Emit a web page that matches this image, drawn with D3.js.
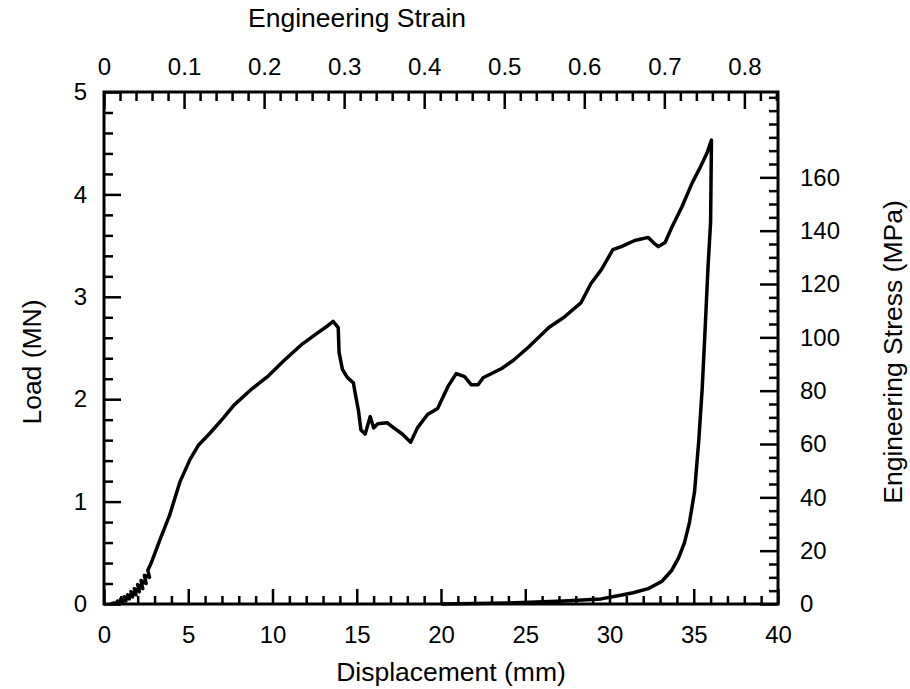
<!DOCTYPE html>
<html>
<head>
<meta charset="utf-8">
<script src="https://cdn.jsdelivr.net/npm/d3@7"></script>
<style>
  body { margin: 0; background: #fff; }
  svg { display: block; }
  .axis path { display: none; }
  .axis line { stroke: #000; stroke-width: 2.5px; }
  .axis text { font-family: "Liberation Sans", Arial, Helvetica, sans-serif; font-size: 24px; fill: #000; }
  .axis-title { font-family: "Liberation Sans", Arial, Helvetica, sans-serif; font-size: 26.5px; fill: #000; }
</style>
</head>
<body>
<div id="chart"></div>
<script>
// load vs displacement; the first points are the small reload cycles near the origin
var displacement = [0.4, 0.6, 0.9, 0.8, 1.1, 1.0, 1.3, 1.2, 1.5, 1.4, 1.7, 1.6, 1.9, 1.8, 2.1, 2.0, 2.3, 2.2, 2.5, 2.4, 2.7, 2.6, 2.8,
  3.3, 3.9, 4.5, 5.1, 5.6, 6.3, 7.1, 7.7, 8.7, 9.7, 10.7, 11.7, 12.7, 13.3, 13.6,
  13.9, 13.95, 14.15, 14.45, 14.8, 14.95, 15.1, 15.25, 15.5, 15.8, 16.0, 16.25, 16.8, 17.2, 17.7, 18.2,
  18.6, 19.2, 19.8, 20.4, 20.9, 21.4, 21.8, 22.2, 22.5, 23.6, 24.3, 25.2, 26.4, 27.3,
  28.3, 28.9, 29.5, 30.2, 30.7, 31.5, 32.3, 32.6, 32.9, 33.3, 33.7, 34.3, 34.9, 35.4, 35.8, 36.05,
  36.0, 35.85, 35.65, 35.5, 35.3, 35.05, 34.75, 34.45, 34.1, 33.7, 33.1, 32.3, 31.4, 30.5, 29.5, 27.3, 24.0, 20.0];
var load = [0.0, 0.01, 0.0, 0.03, 0.01, 0.05, 0.03, 0.07, 0.05, 0.09, 0.07, 0.12, 0.09, 0.15, 0.12, 0.19, 0.15, 0.23, 0.2, 0.28, 0.26, 0.33, 0.4,
  0.62, 0.87, 1.19, 1.41, 1.55, 1.67, 1.82, 1.94, 2.09, 2.22, 2.38, 2.53, 2.65, 2.72, 2.76,
  2.7, 2.46, 2.29, 2.21, 2.16, 2.02, 1.89, 1.7, 1.66, 1.83, 1.72, 1.76, 1.77, 1.72, 1.66, 1.58,
  1.72, 1.85, 1.91, 2.12, 2.25, 2.22, 2.14, 2.14, 2.21, 2.3, 2.38, 2.51, 2.7, 2.8,
  2.94, 3.13, 3.26, 3.46, 3.49, 3.55, 3.58, 3.53, 3.49, 3.53, 3.68, 3.88, 4.11, 4.27, 4.41, 4.53,
  3.73, 3.3, 2.6, 2.1, 1.6, 1.1, 0.8, 0.6, 0.45, 0.33, 0.22, 0.15, 0.11, 0.08, 0.05, 0.03, 0.01, 0.0];

var dispTicks = [0, 5, 10, 15, 20, 25, 30, 35, 40];
var loadTicks = [0, 1, 2, 3, 4, 5];
var strainTicks = [0, 0.1, 0.2, 0.3, 0.4, 0.5, 0.6, 0.7, 0.8];
var stressTicks = [0, 20, 40, 60, 80, 100, 120, 140, 160];

var W = 910, H = 689;
var plotLeft = 104, plotRight = 778, plotTop = 92, plotBottom = 604;

var svg = d3.select('#chart').append('svg')
    .attr('width', W)
    .attr('height', H);

var xScale = d3.scaleLinear().domain([0, 40]).range([plotLeft, plotRight]);
var yScale = d3.scaleLinear().domain([0, 5]).range([plotBottom, plotTop]);
var strainScale = d3.scaleLinear().domain([0, 0.842]).range([plotLeft, plotRight]);
var stressScale = d3.scaleLinear().domain([0, 192]).range([plotBottom, plotTop]);

function minor(step, max, majors) {
    var out = [];
    for (var i = 0; i * step <= max + 1e-9; i++) {
        var v = +(i * step).toFixed(4);
        if (majors.indexOf(v) < 0) out.push(v);
    }
    return out;
}

// minor ticks first
svg.append('g').attr('class', 'axis')
    .attr('transform', 'translate(0,' + plotBottom + ')')
    .call(d3.axisBottom(xScale).tickValues(minor(1, 40, dispTicks)).tickSize(-8).tickFormat(''));
svg.append('g').attr('class', 'axis')
    .attr('transform', 'translate(' + plotLeft + ',0)')
    .call(d3.axisLeft(yScale).tickValues(minor(0.2, 5, loadTicks)).tickSize(-9).tickFormat(''));
svg.append('g').attr('class', 'axis')
    .attr('transform', 'translate(0,' + plotTop + ')')
    .call(d3.axisTop(strainScale).tickValues(minor(0.02, 0.84, strainTicks)).tickSize(-9).tickFormat(''));
svg.append('g').attr('class', 'axis')
    .attr('transform', 'translate(' + plotRight + ',0)')
    .call(d3.axisRight(stressScale).tickValues(minor(5, 190, stressTicks)).tickSize(-9).tickFormat(''));

// major ticks with labels
svg.append('g').attr('class', 'axis')
    .attr('transform', 'translate(0,' + plotBottom + ')')
    .call(d3.axisBottom(xScale).tickValues(dispTicks).tickSize(-15).tickPadding(22).tickFormat(d3.format('d')));
svg.append('g').attr('class', 'axis')
    .attr('transform', 'translate(' + plotLeft + ',0)')
    .call(d3.axisLeft(yScale).tickValues(loadTicks).tickSize(-17).tickPadding(17).tickFormat(d3.format('d')));
svg.append('g').attr('class', 'axis')
    .attr('transform', 'translate(0,' + plotTop + ')')
    .call(d3.axisTop(strainScale).tickValues(strainTicks).tickSize(-17).tickPadding(17).tickFormat(function(d) { return d === 0 ? '0' : d3.format('.1f')(d); }));
svg.append('g').attr('class', 'axis')
    .attr('transform', 'translate(' + plotRight + ',0)')
    .call(d3.axisRight(stressScale).tickValues(stressTicks).tickSize(-18).tickPadding(22).tickFormat(d3.format('d')));

// frame
svg.append('rect')
    .attr('x', plotLeft)
    .attr('y', plotTop)
    .attr('width', plotRight - plotLeft)
    .attr('height', plotBottom - plotTop)
    .attr('fill', 'none')
    .attr('stroke', '#000')
    .attr('stroke-width', 3);

// curve
var line = d3.line()
    .x(function(d, i) { return xScale(displacement[i]); })
    .y(function(d, i) { return yScale(load[i]); });

svg.append('path')
    .datum(load)
    .attr('d', line)
    .attr('fill', 'none')
    .attr('stroke', '#000')
    .attr('stroke-width', 3.5)
    .attr('stroke-linejoin', 'round');

// titles
svg.append('text')
    .attr('class', 'axis-title')
    .attr('text-anchor', 'middle')
    .attr('x', 451)
    .attr('y', 672)
    .attr('dy', '0.35em')
    .text('Displacement (mm)');

svg.append('text')
    .attr('class', 'axis-title')
    .attr('text-anchor', 'middle')
    .attr('x', 357)
    .attr('y', 18)
    .attr('dy', '0.35em')
    .text('Engineering Strain');

svg.append('text')
    .attr('class', 'axis-title')
    .attr('text-anchor', 'middle')
    .attr('transform', 'translate(32,362)rotate(-90)')
    .attr('dy', '0.35em')
    .text('Load (MN)');

svg.append('text')
    .attr('class', 'axis-title')
    .attr('text-anchor', 'middle')
    .attr('transform', 'translate(893,352)rotate(-90)')
    .attr('dy', '0.35em')
    .text('Engineering Stress (MPa)');
</script>
</body>
</html>
